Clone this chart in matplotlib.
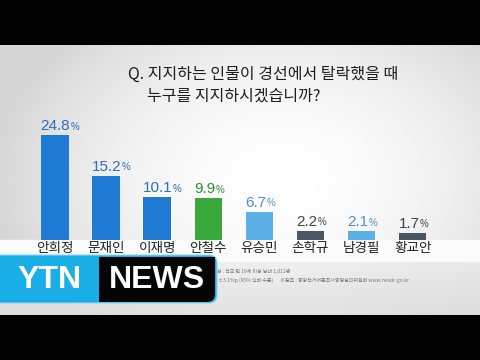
import matplotlib
matplotlib.use("Agg")
import matplotlib.pyplot as plt
import numpy as np
from matplotlib.patches import Rectangle, FancyBboxPatch

plt.rcParams['font.family'] = ['Noto Sans CJK KR', 'DejaVu Sans']

# ---- data ----
categories = ['안희정', '문재인', '이재명', '안철수', '유승민', '손학규', '남경필', '황교안']
values = [24.8, 15.2, 10.1, 9.9, 6.7, 2.2, 2.1, 1.7]
bar_colors = ['#1f7ad4', '#1f7ad4', '#1f7ad4', '#38a83a', '#5cb0e8', '#4a5664', '#5cb0e8', '#4a5664']
label_colors = ['#2a6fb8', '#2a6fb8', '#2a6fb8', '#2f8f30', '#4a92cc', '#3a4450', '#4a92cc', '#3a4450']
title_lines = ['Q. 지지하는 인물이 경선에서 탈락했을 때', '누구를 지지하시겠습니까?']
source_lines = ['조사대상 : 전국 만 19세 이상 남녀 1,011명',
                '표본오차 : ±3.1%p (95% 신뢰 수준)      ※참조 : 중앙선거여론조사공정심의위원회 www.nesdc.go.kr']

W, H = 480, 360
fig = plt.figure(figsize=(4.8, 3.6), dpi=100)
fig.patch.set_facecolor('black')

# ---- background (pixel coordinates) ----
bg = fig.add_axes([0, 0, 1, 1])
bg.set_xlim(0, W)
bg.set_ylim(H, 0)
bg.axis('off')
bg.set_facecolor('black')
bg.add_patch(Rectangle((0, 0), W, H, color='black', zorder=0))

# upper gradient area
xx, yy = np.meshgrid(np.linspace(0, W, 240), np.linspace(45, 240, 100))
d = np.sqrt(((xx - 280) / 280.0) ** 2 + ((yy - 180) / 200.0) ** 2)
shade = np.clip(1.0 - 0.15 * d ** 1.8, 0.84, 1.0)
img = np.dstack([shade, shade, shade])
bg.imshow(img, extent=(0, W, 240, 45), aspect='auto', zorder=1, interpolation='bilinear')

# white strip under bars
bg.add_patch(Rectangle((0, 240), W, 22, color='#fbfbfb', zorder=1))
# lower grey band
yy2 = np.linspace(0, 1, 60)[:, None]
xx2 = np.linspace(0, 1, 240)[None, :]
sh2 = 0.91 - 0.05 * yy2 + 0.03 * np.exp(-((xx2 - 0.55) / 0.35) ** 2)
sh2 = np.broadcast_to(sh2, (60, 240))
bg.imshow(np.dstack([sh2, sh2, sh2]), extent=(0, W, 315, 262), aspect='auto', zorder=1,
          interpolation='bilinear')

# title
bg.text(128, 74, title_lines[0], fontsize=11.5, fontweight='medium', color='#1e1e1e',
        ha='left', va='center', zorder=3)
bg.text(147, 96, title_lines[1], fontsize=11.5, fontweight='medium', color='#1e1e1e',
        ha='left', va='center', zorder=3)

# source text
bg.text(203, 271, source_lines[0], fontsize=3.6, color='#777777', ha='left', va='center', zorder=3)
bg.text(196, 280, source_lines[1], fontsize=3.6, color='#777777', ha='left', va='center', zorder=3)

# ---- bar axes ----
px_per_unit = 51.1
x0 = 55.0
base_px = 240.0
px_per_pct = 105.0 / 24.8
ax = fig.add_axes([0, 1 - base_px / H, 1, (base_px - 45) / H])
ax.set_xlim((0 - x0) / px_per_unit, (W - x0) / px_per_unit)
ax.set_ylim(0, (base_px - 45) / px_per_pct)
ax.axis('off')
ax.patch.set_alpha(0)

pos = np.arange(len(categories))
bw = 0.54
bars = ax.bar(pos, values, width=bw, color=bar_colors, zorder=2)

for i, (v, c) in enumerate(zip(values, label_colors)):
    t = ax.text(pos[i] - bw / 2 - 0.01, v + 0.45, f'{v:.1f}', fontsize=11, color=c,
                ha='left', va='bottom', zorder=3, fontfamily=['Liberation Sans'])
    ax.annotate('%', xy=(1.02, 0.1), xycoords=t, fontsize=7, color=c, ha='left',
                va='bottom', zorder=3, fontfamily=['Liberation Sans'])
    ax.text(pos[i], -1.85, categories[i], fontsize=9.8, color='#222222', ha='center',
            va='center', zorder=3, clip_on=False)

# ---- logo overlay ----
lg = fig.add_axes([0, 0, 1, 1])
lg.set_xlim(0, W)
lg.set_ylim(H, 0)
lg.axis('off')
lg.patch.set_alpha(0)
lg.add_patch(FancyBboxPatch((-10, 255), 227, 48, boxstyle='round,pad=0,rounding_size=8',
                            facecolor='#1aaee6', edgecolor='#8fd6f2', linewidth=0.8))
lg.add_patch(FancyBboxPatch((99, 257), 116, 45, boxstyle='round,pad=0,rounding_size=8',
                            facecolor='#050505', edgecolor='none'))
lg.add_patch(Rectangle((99, 257), 20, 45, facecolor='#050505', edgecolor='none'))
lg.add_patch(Rectangle((99, 257), 116, 15, facecolor='#050505', edgecolor='none'))
lg.text(50, 280, 'YTN', fontsize=23, fontweight='bold', color='white', ha='center',
        va='center', fontfamily=['Liberation Sans'])
lg.text(157, 280, 'NEWS', fontsize=23, fontweight='bold', color='white', ha='center',
        va='center', fontfamily=['Liberation Sans'])

fig.savefig('out.png', dpi=100, facecolor='black')
